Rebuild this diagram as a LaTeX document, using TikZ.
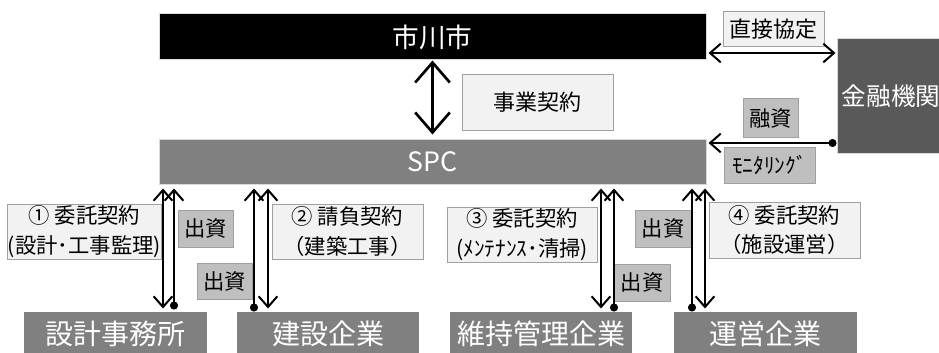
\documentclass[tikz,border=0pt]{standalone}
\usepackage{fontspec}
\setmainfont{Noto Sans CJK JP}
\usetikzlibrary{arrows.meta}
\definecolor{boxgray}{RGB}{128,128,128}
\definecolor{bankgray}{RGB}{89,89,89}
\definecolor{paleface}{RGB}{242,242,242}
\definecolor{midface}{RGB}{191,191,191}
\definecolor{rimgray}{RGB}{160,160,160}
\tikzset{every picture/.style={line width=0.75pt}}
\tikzset{
  boxsize/.style 2 args={minimum width=0.75*#1pt,minimum height=0.75*#2pt},
  mainbox/.style={draw=rimgray!40,text=white,inner sep=0pt},
  firmbox/.style={fill=boxgray,text=white,inner sep=0pt,font=\fontsize{21}{24}\selectfont},
  keiyaku/.style={draw=rimgray,fill=paleface,inner sep=0pt,align=center,font=\fontsize{16}{22}\selectfont},
  shusshi/.style={draw=rimgray,fill=midface,inner sep=0pt,font=\fontsize{16}{20}\selectfont},
  bigdbl/.style={line width=2pt,{Straight Barb[length=15pt,width=26pt]}-{Straight Barb[length=15pt,width=26pt]}},
  dbl/.style={line width=1.5pt,{Straight Barb[length=8pt,width=14pt]}-{Straight Barb[length=8pt,width=14pt]}},
  feed/.style={line width=1.5pt,{Straight Barb[length=8pt,width=14pt]}-{Circle[length=6pt]}},
}

\begin{document}
\begin{tikzpicture}[x=0.75pt,y=0.75pt,yscale=-1,xscale=1]
    \useasboundingbox (0,0) rectangle (939,353);
    \clip (0,0) rectangle (939,353);
    % main parties
    \node (shi) [mainbox,fill=black,boxsize={547}{46},font=\fontsize{20}{24}\selectfont] at (432.5,37) {市川市};
    \node (spc) [mainbox,fill=boxgray,boxsize={547}{45},font=\fontsize{20}{24}\selectfont] at (432.5,161.5) {SPC};
    \node (kin) [mainbox,fill=bankgray,boxsize={108}{114},font=\fontsize{18.5}{22}\selectfont] at (891,96) {金融機関};
    \node (jigyo) [keiyaku,boxsize={151}{55}] at (537.5,102.5) {\fontsize{16.5}{22}\selectfont 事業契約};
    \node (kyotei) [keiyaku,boxsize={101}{35}] at (773.5,29.5) {\fontsize{16.5}{22}\selectfont 直接協定};
    \node (yushi) [shusshi,boxsize={55}{38}] at (770.5,118) {融資};
    \node (moni) [shusshi,boxsize={91}{36}] at (769.5,165) {ﾓﾆﾀﾘﾝｸﾞ};
    % firms
    \node (sekkei) [firmbox,boxsize={183}{44}] at (115.5,334) {設計事務所};
    \node (kensetsu) [firmbox,boxsize={182}{44}] at (328,334) {建設企業};
    \node (iji) [firmbox,boxsize={182}{44}] at (541,334) {維持管理企業};
    \node (unei) [firmbox,boxsize={183}{44}] at (765.5,334) {運営企業};
    % labels
    \node (k1) [keiyaku,boxsize={151}{55}] at (84.5,231.5) {① 委託契約\\(設計･工事監理)};
    \node (k2) [keiyaku,boxsize={151}{55}] at (347.5,231.5) {② 請負契約\\（建築工事）};
    \node (k3) [keiyaku,boxsize={150}{55}] at (522,234.5) {③ 委託契約\\(ﾒﾝﾃﾅﾝｽ･清掃)};
    \node (k4) [keiyaku,boxsize={151}{56}] at (784.5,230) {④ 委託契約\\（施設運営）};
    \node (s1) [shusshi,boxsize={55}{37}] at (205.5,228.5) {出資};
    \node (s2) [shusshi,boxsize={55}{36}] at (224.5,281) {出資};
    \node (s3) [shusshi,boxsize={56}{37}] at (663,228.5) {出資};
    \node (s4) [shusshi,boxsize={56}{37}] at (642,282.5) {出資};
    % connectors
    \coordinate (r1) at (0,53);
    \coordinate (r2) at (0,143);
    \draw [bigdbl,shorten >=3pt] (shi.south) -- (spc.north);
    \draw [dbl,shorten <=1.5pt,shorten >=0.75pt] (shi.east |- r1) -- (kin.west |- r1);
    \draw [line width=1.5pt,{Circle[length=6pt]}-{Straight Barb[length=8pt,width=14pt]},shorten >=1.5pt] (kin.west |- r2) -- (spc.east |- r2);
    \coordinate (a1) at (163,0);
    \coordinate (b1) at (174,0);
    \coordinate (b2) at (254,0);
    \coordinate (a2) at (268,0);
    \coordinate (a3) at (601,0);
    \coordinate (b3) at (614,0);
    \coordinate (b4) at (692,0);
    \coordinate (a4) at (705,0);
    \draw [dbl,shorten <=3pt,shorten >=2.25pt] (spc.south -| a1) -- (sekkei.north -| a1);
    \draw [feed,shorten <=3pt,shorten >=1.5pt] (spc.south -| b1) -- (sekkei.north -| b1);
    \draw [feed,shorten <=3pt] (spc.south -| b2) -- (kensetsu.north -| b2);
    \draw [dbl,shorten <=3pt,shorten >=2.25pt] (spc.south -| a2) -- (kensetsu.north -| a2);
    \draw [dbl,shorten <=3pt,shorten >=2.25pt] (spc.south -| a3) -- (iji.north -| a3);
    \draw [feed,shorten <=3pt] (spc.south -| b3) -- (iji.north -| b3);
    \draw [feed,shorten <=3pt] (spc.south -| b4) -- (unei.north -| b4);
    \draw [dbl,shorten <=3pt,shorten >=2.25pt] (spc.south -| a4) -- (unei.north -| a4);
\end{tikzpicture}
\end{document}
